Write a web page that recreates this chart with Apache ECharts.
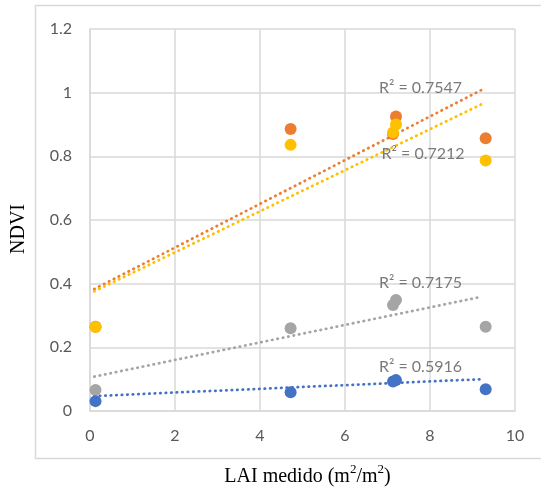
<!DOCTYPE html>
<html><head><meta charset="utf-8">
<script src="https://cdn.jsdelivr.net/npm/echarts@6/dist/echarts.min.js"></script>
<style>html,body{margin:0;padding:0;background:#fff}#c{width:541px;height:487px}</style>
</head><body><div id="c"></div>
<script>
// Data
const lai = [0.13, 4.72, 7.13, 7.2, 9.31];
const blue = [0.031, 0.059, 0.093, 0.097, 0.068];
const gray = [0.066, 0.26, 0.333, 0.349, 0.265];
const orange = [0.265, 0.886, 0.87, 0.925, 0.857];
const yellow = [0.264, 0.836, 0.875, 0.90, 0.787];
// linear trendlines (Excel): [start, end] over LAI range
const trendX = [0.1, 9.22];
const blueTrend = [0.047, 0.100];
const grayTrend = [0.108, 0.359];
const orangeTrend = [0.383, 1.009];
const yellowTrend = [0.376, 0.964];
const r2Labels = ['R² = 0.5916', 'R² = 0.7175', 'R² = 0.7547', 'R² = 0.7212'];
const xTicks = [0, 2, 4, 6, 8, 10];
const yTicks = [0, 0.2, 0.4, 0.6, 0.8, 1, 1.2];
const yTitle = 'NDVI';

const sets = [
  {vals: blue, trend: blueTrend, color: '#4472C4', label: r2Labels[0], pos: [6.8, 0.138]},
  {vals: gray, trend: grayTrend, color: '#A5A5A5', label: r2Labels[1], pos: [6.8, 0.403]},
  {vals: orange, trend: orangeTrend, color: '#ED7D31', label: r2Labels[2], pos: [6.8, 1.016]},
  {vals: yellow, trend: yellowTrend, color: '#FFC000', label: r2Labels[3], pos: [6.86, 0.808]}
];
const series = [];
sets.forEach(s => {
  series.push({
    type: 'line', data: trendX.map((x, i) => [x, s.trend[i]]), symbol: 'none', silent: true, z: 2,
    lineStyle: {color: s.color, width: 2.75, type: [0.5, 5], cap: 'round'}
  });
});
[sets[2], sets[3], sets[1], sets[0]].forEach(s => {
  series.push({
    type: 'scatter', symbol: 'circle', symbolSize: 12, z: 3,
    itemStyle: {color: s.color, opacity: 1},
    data: lai.map((x, i) => [x, s.vals[i]])
  });
});
series.push({
  type: 'scatter', symbolSize: 0, z: 4, silent: true,
  data: sets.map(s => ({value: s.pos, label: {show: true, formatter: s.label}})),
  label: {position: 'right', distance: 0, color: '#595959', fontSize: 16, fontFamily: 'Lato', align: 'left'}
});

const chart = echarts.init(document.getElementById('c'), null, {renderer: 'canvas'});
chart.setOption({
  animation: false,
  graphic: [
    {type: 'rect', shape: {x: 35.5, y: 5.5, width: 560, height: 453}, style: {fill: 'none', stroke: '#D9D9D9', lineWidth: 1.5}, z: 0},
    {type: 'text', x: 19, y: 229, rotation: Math.PI / 2,
     style: {text: yTitle, font: '20px "Liberation Serif"', fill: '#000', align: 'center', verticalAlign: 'middle'}}
  ],
  grid: {left: 90, right: 26, top: 29, bottom: 76, containLabel: false, outerBoundsMode: 'none'},
  xAxis: {
    type: 'value', min: xTicks[0], max: xTicks[xTicks.length - 1], interval: 2,
    axisLine: {show: true, lineStyle: {color: '#D9D9D9', width: 1.5}},
    axisTick: {show: false},
    splitLine: {show: true, lineStyle: {color: '#D9D9D9', width: 1.5}},
    axisLabel: {color: '#595959', fontSize: 16, fontFamily: 'Lato', margin: 17},
    name: '{n|LAI medido (m}{s|2}{n|/m}{s|2}{n|)}',
    nameLocation: 'middle', nameGap: 52,
    nameTextStyle: {padding: [0, 0, 0, 10], rich: {
      n: {fontFamily: 'Liberation Serif', fontSize: 20, color: '#000', verticalAlign: 'bottom', lineHeight: 24},
      s: {fontFamily: 'Liberation Serif', fontSize: 13, color: '#000', verticalAlign: 'top', lineHeight: 24, padding: [0, 0, 8, 0]}
    }}
  },
  yAxis: {
    type: 'value', min: yTicks[0], max: yTicks[yTicks.length - 1], interval: 0.2,
    axisLine: {show: true, lineStyle: {color: '#D9D9D9', width: 1.5}},
    axisTick: {show: false},
    splitLine: {show: true, lineStyle: {color: '#D9D9D9', width: 1.5}},
    axisLabel: {color: '#595959', fontSize: 16, fontFamily: 'Lato', margin: 18}
  },
  series: series
});
</script></body></html>
